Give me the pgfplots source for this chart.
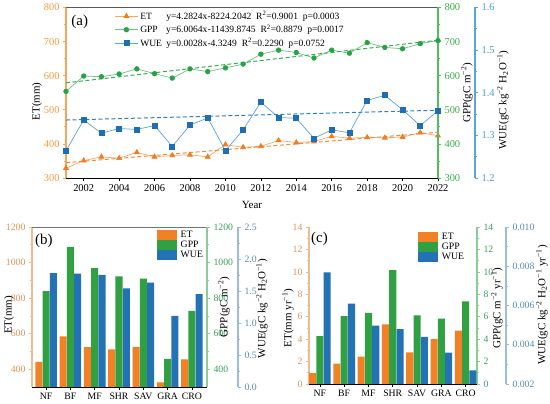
\documentclass[border=0pt]{standalone}
\usepackage{fontspec}
\setmainfont{Liberation Serif}
\usepackage{pgfplots}
\usepackage{pgfplotstable}
\pgfplotsset{compat=1.18}

\definecolor{etM}{HTML}{F47B20}
\definecolor{etL}{HTML}{F8A76B}
\definecolor{etD}{HTML}{F58B3C}
\definecolor{gpM}{HTML}{27A347}
\definecolor{gpL}{HTML}{6FC27D}
\definecolor{gpD}{HTML}{3AAE52}
\definecolor{wuM}{HTML}{1D6EB5}
\definecolor{wuL}{HTML}{5BA6DE}
\definecolor{wuD}{HTML}{2E80C8}
\definecolor{aLeft}{HTML}{F8A555}
\definecolor{aLeftT}{HTML}{F59C42}
\definecolor{aGr}{HTML}{55BC64}
\definecolor{aGrT}{HTML}{3BAE4C}
\definecolor{aBl}{HTML}{55A6DD}
\definecolor{aBlT}{HTML}{4A9ED8}
\definecolor{bET}{HTML}{F28126}
\definecolor{bGPP}{HTML}{30A042}
\definecolor{bWUE}{HTML}{2372B4}
\definecolor{bLeft}{HTML}{EDBD92}
\definecolor{bLeftT}{HTML}{D9955B}
\definecolor{bGr}{HTML}{8DCB99}
\definecolor{bGrT}{HTML}{3E9E5E}
\definecolor{bBl}{HTML}{9DBBD6}
\definecolor{bBlT}{HTML}{5A8DB8}

\newcommand\sups[1]{\textsuperscript{#1}}
\newcommand\subs[1]{\textsubscript{#1}}

\pgfplotstableread{
year ET GPP WUE
2001 329 554 1.264
2002 351 599 1.336
2003 362 597 1.305
2004 358 605 1.316
2005 375 620 1.314
2006 362 606 1.323
2007 366 593 1.274
2008 368 620 1.324
2009 362 612 1.341
2010 398 623 1.264
2011 390 634 1.313
2012 393 663 1.378
2013 410 675 1.342
2014 404 668 1.340
2015 407 652 1.293
2016 422 675 1.313
2017 417 666 1.306
2018 419 697 1.382
2019 418 683 1.394
2020 420 679 1.360
2021 433 694 1.323
2022 424 703 1.358
}\dataA

\pgfplotstableread{
idx ET GPP WUE
0 442 840 1.78
1 585 1088 1.77
2 525 968 1.75
3 511 922 1.54
4 526 910 1.63
5 326 458 1.11
6 455 728 1.45
}\dataB

\pgfplotstableread{
idx ET GPP WUE
0 0.96 4.27 0.00769
1 1.82 6.05 0.00610
2 2.45 6.35 0.00498
3 5.31 10.15 0.00480
4 2.81 6.12 0.00440
5 4.01 5.83 0.00360
6 4.76 7.37 0.00269
}\dataC

\pgfplotsset{
 common/.style={scale only axis, anchor=south west, enlargelimits=false, tick align=outside,
   /pgf/number format/assume math mode=true, /pgf/number format/1000 sep={},
   scaled y ticks=false, scaled x ticks=false,
   major tick length=3bp, minor tick length=1.8bp,
   every tick/.append style={line width=0.7bp},
   label style={font=\fontsize{11}{13}\selectfont, text=black}},
 panelA/.style={common, at={(66bp,226bp)}, width=372bp, height=170.5bp, xmin=2001, xmax=2022,
   tick label style={font=\fontsize{10.5}{12}\selectfont}},
 panelB/.style={common, at={(32bp,17bp)}, width=175bp, height=160bp, xmin=-0.58, xmax=6.62,
   tick label style={font=\fontsize{9.8}{11}\selectfont}},
 panelC/.style={common, at={(309bp,20bp)}, width=168bp, height=157bp, xmin=-0.45, xmax=6.47,
   tick label style={font=\fontsize{9.8}{11}\selectfont}},
 barleg/.style={legend image code/.code={\fill[##1] (0bp,-5bp) rectangle (20bp,5bp);}},
 barlegstyle/.style={legend style={draw=none, fill=none, inner sep=0pt, row sep=0pt,
   font=\fontsize{9.8}{11}\selectfont, nodes={inner sep=0.6bp},
   /tikz/every odd column/.append style={column sep=3bp}}, legend cell align=left},
}

\begin{document}
\begin{tikzpicture}
\useasboundingbox (0,0) rectangle (550bp,404bp);

% ---------------- panel (a) ----------------
\begin{axis}[panelA, ymin=300, ymax=800,
  axis y line*=left, axis x line*=bottom,
  xtick={2002,2004,...,2022}, minor x tick num=1,
  ytick={300,400,...,800}, minor y tick num=1,
  y axis line style={draw=aLeft, line width=1.3bp},
  x axis line style={draw=black, line width=0.8bp},
  yticklabel style={text=aLeftT},
  ytick style={draw=aLeft},
  xtick style={draw=black},
  xlabel={Year}, ylabel={ET(mm)},
  xlabel style={at={(axis description cs:0.5,-0.158)}, anchor=center},
  ylabel style={at={(axis description cs:-0.078,0.45)}, anchor=center}]
\addplot[etL, line width=0.7bp, mark=triangle*, mark size=2.8bp, mark options={etM, solid}] table[x=year,y=ET]{\dataA};
\addplot[etD, line width=1bp, dash pattern=on 4bp off 2.5bp] coordinates {(2001,345) (2022,434)};
\node[anchor=west, inner sep=0pt, font=\fontsize{15}{17}\selectfont] at (axis description cs:0.014,0.918) {(a)};
\end{axis}

\begin{axis}[panelA, ymin=300, ymax=800,
  axis y line*=right, axis x line*=top, xtick=\empty,
  ytick={300,400,...,800}, minor y tick num=1,
  y axis line style={draw=aGr, line width=1.1bp},
  x axis line style={draw=black!65, line width=0.8bp},
  yticklabel style={text=aGrT},
  ytick style={draw=aGr},
  ylabel={GPP(gC m\sups{−2})},
  ylabel style={at={(axis description cs:1.078,0.5)}, anchor=center}]
\addplot[gpL, line width=0.7bp, mark=*, mark size=2.3bp, mark options={gpM, solid}] table[x=year,y=GPP]{\dataA};
\addplot[gpD, line width=1bp, dash pattern=on 4bp off 2.5bp] coordinates {(2001,579) (2022,704)};
\end{axis}

\begin{axis}[panelA, ymin=1.2, ymax=1.6,
  axis y line*=right, axis y line shift=37bp, hide x axis,
  ytick={1.2,1.3,1.4,1.5,1.6}, minor y tick num=1,
  yticklabel style={text=aBlT, /pgf/number format/.cd, fixed, fixed zerofill, precision=1},
  y axis line style={draw=aBl, line width=1.1bp},
  ytick style={draw=aBl},
  ylabel={WUE(gC kg\sups{−2} H\subs{2}O\sups{−1})},
  ylabel style={at={(axis description cs:1.175,0.457)}, anchor=center},
  legend style={draw=none, fill=none, inner sep=0pt, at={(axis description cs:0.13,0.99)}, anchor=north west,
    font=\fontsize{9.6}{11}\selectfont, row sep=0bp, nodes={inner sep=2bp}},
  legend cell align=left,
  legend image code/.code={\draw[mark repeat=2,mark phase=2,#1] plot coordinates {(0bp,0bp) (11.5bp,0bp) (23bp,0bp)};}]
\addlegendimage{etL, line width=0.7bp, mark=triangle*, mark size=2.8bp, mark options={etM, solid}}
\addlegendentry{\makebox[26bp][l]{ET}y=4.2824x-8224.2042\ \ R\sups{2}=0.9001\ \ p=0.0003}
\addlegendimage{gpL, line width=0.7bp, mark=*, mark size=2.3bp, mark options={gpM, solid}}
\addlegendentry{\makebox[26bp][l]{GPP}y=6.0064x-11439.8745\ \ R\sups{2}=0.8879\ \ p=0.0017}
\addplot[wuL, line width=0.7bp, mark=square*, mark size=2.5bp, mark options={wuM, solid}] table[x=year,y=WUE]{\dataA};
\addlegendentry{\makebox[26bp][l]{WUE\,}y=0.0028x-4.3249\ \ R\sups{2}=0.2290\ \ p=0.0752}
\addplot[wuD, line width=1bp, dash pattern=on 4bp off 2.5bp, forget plot] coordinates {(2001,1.336) (2022,1.359)};
\end{axis}

% ---------------- panel (b) ----------------
\begin{axis}[panelB, ymin=300, ymax=1200,
  axis y line*=left, axis x line*=bottom,
  xtick={0,...,6}, xticklabels={NF,BF,MF,SHR,SAV,GRA,CRO},
  ytick={400,600,...,1200}, minor y tick num=1,
  y axis line style={draw=bLeft, line width=1.1bp},
  x axis line style={draw=black, line width=0.8bp},
  yticklabel style={text=bLeftT},
  ytick style={draw=bLeft},
  xtick style={draw=black},
  ylabel={ET(mm)},
  ylabel style={at={(axis description cs:-0.131,0.45)}, anchor=center}]
\addplot[ybar, bar width=0.29, bar shift=-0.3, fill=bET, draw=none] table[x=idx,y=ET]{\dataB};
\node[anchor=west, inner sep=0pt, font=\fontsize{15}{17}\selectfont] at (axis description cs:0.017,0.912) {(b)};
\end{axis}

\begin{axis}[panelB, ymin=300, ymax=1200,
  axis y line*=right, axis x line*=top, xtick=\empty,
  ytick={400,600,...,1200}, minor y tick num=1,
  y axis line style={draw=bGr, line width=1.1bp},
  x axis line style={draw=black!55, line width=0.8bp},
  yticklabel style={text=bGrT},
  ytick style={draw=bGr},
  ylabel={GPP(gC m\sups{−2})},
  ylabel style={at={(axis description cs:1.097,0.5)}, anchor=center}]
\addplot[ybar, bar width=0.29, bar shift=0, fill=bGPP, draw=none] table[x=idx,y=GPP]{\dataB};
\end{axis}

\begin{axis}[panelB, ymin=0, ymax=2.5,
  axis y line*=right, axis y line shift=31bp, hide x axis,
  ytick={0,0.5,1,1.5,2,2.5}, minor y tick num=1,
  yticklabel style={text=bBlT, /pgf/number format/.cd, fixed, fixed zerofill, precision=1},
  y axis line style={draw=bBl, line width=1.1bp},
  ytick style={draw=bBl},
  ylabel={WUE(gC kg\sups{−2} H\subs{2}O\sups{−1})},
  ylabel style={at={(axis description cs:1.314,0.49)}, anchor=center},
  barlegstyle, legend style={at={(axis description cs:0.714,0.985)}, anchor=north west}]
\addlegendimage{barleg, fill=bET, draw=none}
\addlegendentry{ET}
\addlegendimage{barleg, fill=bGPP, draw=none}
\addlegendentry{GPP}
\addplot[ybar, bar width=0.29, bar shift=0.3, fill=bWUE, draw=none, barleg] table[x=idx,y=WUE]{\dataB};
\addlegendentry{WUE}
\end{axis}

% ---------------- panel (c) ----------------
\begin{axis}[panelC, ymin=0, ymax=14,
  axis y line*=left, axis x line*=bottom,
  xtick={0,...,6}, xticklabels={NF,BF,MF,SHR,SAV,GRA,CRO},
  ytick={0,2,...,14}, minor y tick num=1,
  y axis line style={draw=bLeft, line width=1.1bp},
  x axis line style={draw=black, line width=0.8bp},
  yticklabel style={text=bLeftT},
  ytick style={draw=bLeft},
  xtick style={draw=black},
  ylabel={ET(mm yr\sups{−1})},
  ylabel style={at={(axis description cs:-0.125,0.42)}, anchor=center}]
\addplot[ybar, bar width=0.29, bar shift=-0.3, fill=bET, draw=none] table[x=idx,y=ET]{\dataC};
\node[anchor=west, inner sep=0pt, font=\fontsize{15}{17}\selectfont] at (axis description cs:0.012,0.924) {(c)};
\end{axis}

\begin{axis}[panelC, ymin=0, ymax=14,
  axis y line*=right, hide x axis,
  ytick={0,2,...,14}, minor y tick num=1,
  y axis line style={draw=bGr, line width=1.1bp},
  yticklabel style={text=bGrT},
  ytick style={draw=bGr},
  ylabel={GPP(gC m\sups{−2} yr\sups{−1})},
  ylabel style={at={(axis description cs:1.119,0.484)}, anchor=center}]
\addplot[ybar, bar width=0.29, bar shift=0, fill=bGPP, draw=none] table[x=idx,y=GPP]{\dataC};
\end{axis}

\begin{axis}[panelC, ymin=0.002, ymax=0.010,
  axis y line*=right, axis y line shift=29bp, hide x axis,
  ytick={0.002,0.004,0.006,0.008,0.010}, minor y tick num=1,
  yticklabel style={text=bBlT, /pgf/number format/.cd, fixed, fixed zerofill, precision=3},
  y axis line style={draw=bBl, line width=1.1bp},
  ytick style={draw=bBl},
  ylabel={WUE(gC kg\sups{−2} H\subs{2}O\sups{−1} yr\sups{−1})},
  ylabel style={at={(axis description cs:1.387,0.503)}, anchor=center},
  barlegstyle, legend style={at={(axis description cs:0.649,0.968)}, anchor=north west}]
\addlegendimage{barleg, fill=bET, draw=none}
\addlegendentry{ET}
\addlegendimage{barleg, fill=bGPP, draw=none}
\addlegendentry{GPP}
\addplot[ybar, bar width=0.29, bar shift=0.3, fill=bWUE, draw=none, barleg] table[x=idx,y=WUE]{\dataC};
\addlegendentry{WUE}
\end{axis}

\end{tikzpicture}
\end{document}
